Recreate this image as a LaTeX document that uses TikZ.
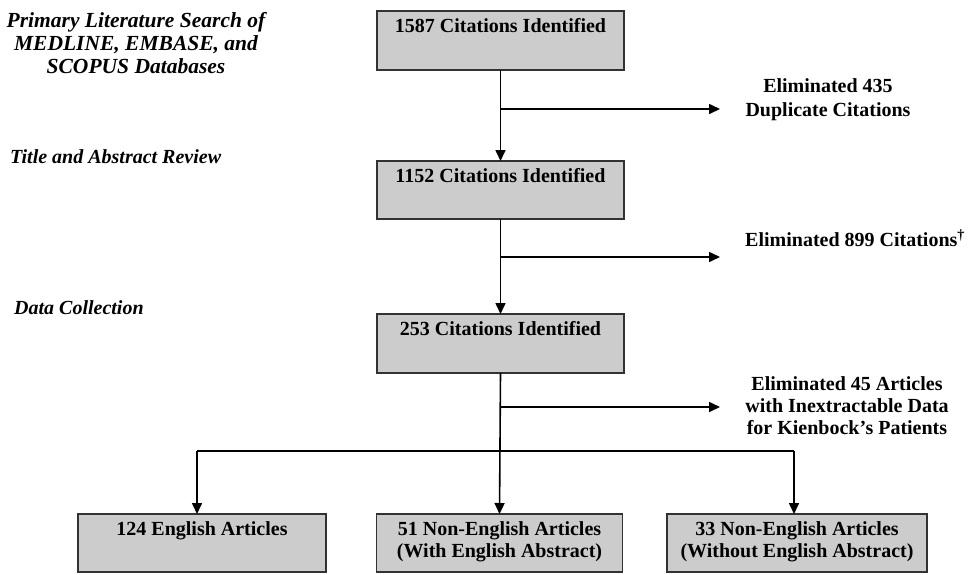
\documentclass[tikz,border=0pt]{standalone}
\usepackage{fontspec}
\setmainfont{Liberation Serif}
\usetikzlibrary{arrows.meta}
\definecolor{boxfill}{RGB}{204,204,204}
\definecolor{boxline}{RGB}{50,50,50}
\begin{document}
\begin{tikzpicture}[x=1pt,y=-1pt,
 box/.style={draw=boxline, fill=boxfill, line width=1.3pt, minimum height=59pt, inner sep=0pt, outer sep=0pt},
 boxtext/.style={font=\fontsize{20}{22}\selectfont\bfseries, align=center, inner sep=0pt, anchor=north, yshift=-7pt},
 conn/.style={line width=1.6pt},
 arr/.style={conn, -{Triangle[length=11pt,width=10pt]}},
 note/.style={font=\fontsize{20}{23}\selectfont\bfseries, align=center, inner sep=0pt},
 phase/.style={font=\fontsize{20}{23}\selectfont\bfseries\itshape, align=center, inner sep=0pt},
]
\useasboundingbox (0,0) rectangle (971,574);

% boxes
\node[box, minimum width=247pt, label={[boxtext]north:1587 Citations Identified}] (b1) at (500.5,40.5) {};
\node[box, minimum width=247pt, minimum height=58pt, label={[boxtext]north:1152 Citations Identified}] (b2) at (500.5,190) {};
\node[box, minimum width=247pt, label={[boxtext]north:253 Citations Identified}] (b3) at (500.5,343.5) {};
\node[box, minimum width=248pt, minimum height=58pt, label={[boxtext]north:124 English Articles}] (bA) at (202,543) {};
\node[box, minimum width=246pt, minimum height=58pt, label={[boxtext]north:51 Non-English Articles\\(With English Abstract)}] (bB) at (499.5,543) {};
\node[box, minimum width=260pt, minimum height=58pt, label={[boxtext]north:33 Non-English Articles\\(Without English Abstract)}] (bC) at (797,543) {};

% phase labels
\node[phase, font=\fontsize{21.5}{23}\selectfont\bfseries\itshape] (p1) at (136,43) {Primary Literature Search of\\MEDLINE, EMBASE, and\\SCOPUS Databases};
\node[phase, anchor=west] (p2) at (10,157) {Title and Abstract Review};
\node[phase, anchor=west] (p3) at (14,308) {Data Collection};

% exclusion notes
\node[note, font=\fontsize{20}{24}\selectfont\bfseries] (n1) at (828,100) {Eliminated 435\\Duplicate Citations};
\node[note, anchor=west] (n2) at (745,238) {Eliminated 899 Citations\textsuperscript{†}};
\node[note, font=\fontsize{20}{22}\selectfont\bfseries] (n3) at (847,406) {Eliminated 45 Articles\\with Inextractable Data\\for Kienbock’s Patients};

% connector coordinates
\coordinate (e1) at (720,109);
\coordinate (e2) at (720,257);
\coordinate (e3) at (720,407);
\coordinate (dA) at (197,451);
\coordinate (dC) at (794,451);

% main spine
\draw[arr] (b1.south) -- (b2.north);
\draw[arr] (b2.south) -- (b3.north);
\draw[arr] (b3.south) -- (bB.north);

% exclusions
\draw[arr] (b1.south |- e1) -- (e1);
\draw[arr] (b2.south |- e2) -- (e2);
\draw[arr] (b3.south |- e3) -- (e3);

% distribution
\draw[conn] (dA) -- (dC);
\draw[arr] (dA) -- (dA |- bA.north);
\draw[arr] (dC) -- (dC |- bC.north);
\end{tikzpicture}
\end{document}
